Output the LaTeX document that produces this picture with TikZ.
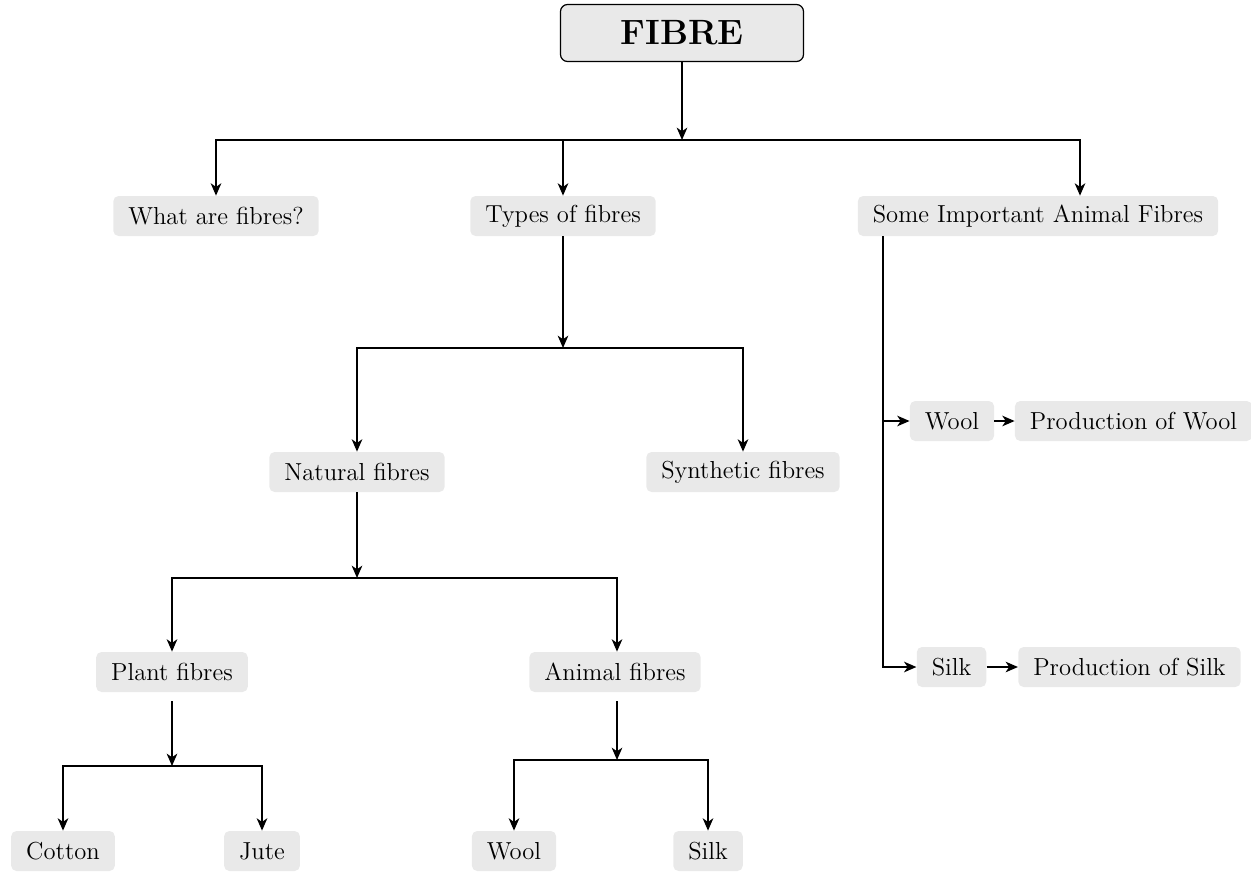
\documentclass[tikz,border=0pt]{standalone}
\usetikzlibrary{arrows.meta,positioning,calc}
\definecolor{boxgray}{HTML}{E9E9E9}
\begin{document}
\begin{tikzpicture}[
  >={Stealth[length=7pt,width=6pt,inset=2pt]},
  root/.style={draw, line width=0.7pt, rounded corners=4pt, fill=boxgray, align=center, minimum width=4.86cm, minimum height=1.14cm, font=\fontsize{20}{24}\selectfont\bfseries},
  leaf/.style={fill=boxgray, rounded corners=3pt, minimum height=0.8cm, inner xsep=0.3cm, font=\fontsize{14}{16}\selectfont},
  line/.style={->, line width=1pt}
]
\useasboundingbox (0,0) rectangle (25.02,-17.46);

% Top level
\node[root] (fibre) at (13.64,-0.66) {FIBRE};
\node[leaf] (what)  at (4.32,-4.32)  {What are fibres?};
\node[leaf] (types) at (11.26,-4.32) {Types of fibres};
\node[leaf] (some)  at (20.76,-4.32) {Some Important Animal Fibres};

% Types of fibres
\node[leaf] (natural)   at (7.14,-9.44)  {Natural fibres};
\node[leaf] (synthetic) at (14.86,-9.44) {Synthetic fibres};
\node[leaf] (plant)  at (3.44,-13.44) {Plant fibres};
\node[leaf] (animal) at (12.3,-13.44) {Animal fibres};
\node[leaf] (cotton) at (1.26,-17.02)  {Cotton};
\node[leaf] (jute)   at (5.24,-17.02)  {Jute};
\node[leaf] (wool)   at (10.28,-17.02) {Wool};
\node[leaf] (silk)   at (14.16,-17.02) {Silk};

% Animal fibres branch
\node[leaf] (wooltwo)  at (19.04,-8.42)  {Wool};
\node[leaf] (prodwool) at (22.67,-8.42)  {Production of Wool};
\node[leaf] (silktwo)  at (19.03,-13.34) {Silk};
\node[leaf] (prodsilk) at (22.59,-13.34) {Production of Silk};

% Junctions
\coordinate (jfibre)   at (fibre |- 0,-2.8);
\coordinate (jsome)    at (21.6,-4.32);
\coordinate (jtypes)   at (types |- 0,-6.96);
\coordinate (jnatural) at (natural |- 0,-11.56);
\coordinate (jplant)   at (plant |- 0,-15.32);
\coordinate (janimal)  at (12.34,-15.2);
\coordinate (spine)    at (17.66,-4.72);

% Arrows
\draw[line] (fibre) -- (jfibre);
\draw[line] (jfibre) -| (what);
\draw[line] (jfibre) -| (types);
\draw[line] (jfibre) -| (jsome |- some.north);

\draw[line] (types) -- (jtypes);
\draw[line] (jtypes) -| (natural);
\draw[line] (jtypes) -| (synthetic);

\draw[line] (natural) -- (jnatural);
\draw[line] (jnatural) -| (plant);
\draw[line] (jnatural) -| (animal.north -| janimal);

\draw[line, shorten <=5pt] (plant) -- (jplant);
\draw[line] (jplant) -| (cotton);
\draw[line] (jplant) -| (jute);

\draw[line, shorten <=5pt] (animal.south -| janimal) -- (janimal);
\draw[line] (janimal) -| (wool);
\draw[line] (janimal) -| (silk);

\draw[line] (spine) |- (wooltwo);
\draw[line] (spine) |- (silktwo);
\draw[line] (wooltwo) -- (prodwool);
\draw[line] (silktwo) -- (prodsilk);

\end{tikzpicture}
\end{document}
